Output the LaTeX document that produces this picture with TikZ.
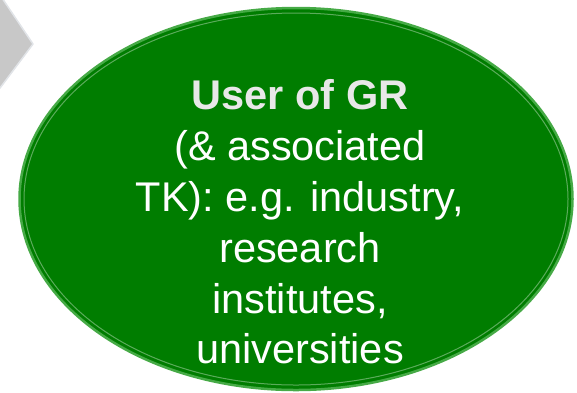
\documentclass[tikz,border=0pt]{standalone}
\usepackage{fontspec}
\setmainfont{Liberation Sans}
\usetikzlibrary{shapes.geometric}
\definecolor{elgreen}{RGB}{0,125,0}
\definecolor{rimgreen}{RGB}{70,170,70}
\definecolor{arrowgray}{RGB}{200,200,200}
\definecolor{arrowrim}{RGB}{225,228,232}
\definecolor{titlegray}{RGB}{232,232,232}
\begin{document}
\begin{tikzpicture}[x=1pt,y=-1pt,
  ellstyle/.style={ellipse,draw=rimgreen,fill=elgreen,line width=2.5pt,minimum width=553pt,minimum height=382pt,inner sep=0pt},
  arrowstyle/.style={fill=arrowgray,draw=arrowrim,line width=1.5pt,line join=round},
  txt/.style={text=white,align=center,font=\fontsize{41.5}{50.8}\selectfont}]
\useasboundingbox (0,0) rectangle (577,392);
\draw[arrowstyle] (-5,-5) -- (0,-5) -- (33,44) -- (0,88) -- (-5,88) -- cycle;
\node[ellstyle] (ell) at (296,199) {};
\draw[white!60!elgreen,line width=1pt,opacity=0.6] (ell.center) ellipse [x radius=272pt,y radius=186pt];
\node[txt] (t) at (300,222) {\textbf{\textcolor{titlegray}{User of GR}}\\(\& associated\\TK): e.g. industry,\\research\\institutes,\\universities};
\end{tikzpicture}
\end{document}
